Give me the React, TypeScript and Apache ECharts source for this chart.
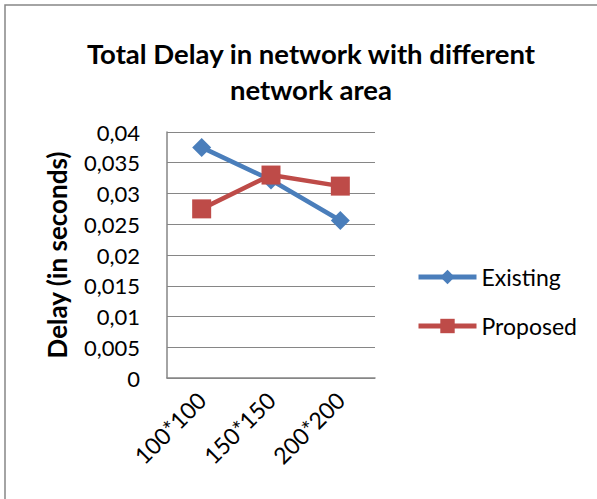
import React, { useEffect, useRef } from "react";
import * as echarts from "echarts";

const categories = ["100*100", "150*150", "200*200"];
const existing = [0.0375, 0.0322, 0.0256];
const proposed = [0.0275, 0.033, 0.0312];
const seriesNames = ["Existing", "Proposed"];
const titleText = "Total Delay in network with different\nnetwork area";
const yAxisName = "Delay (in seconds)";

const FONT = "Lato, 'Noto Sans', sans-serif";
const BLUE = "#4a7ebb";
const RED = "#be4b48";

export default function App() {
  const ref = useRef<HTMLDivElement>(null);
  useEffect(() => {
    if (!ref.current) return;
    const chart = echarts.init(ref.current, null, { renderer: "svg" });
    chart.setOption({
      animation: false,
      backgroundColor: "#ffffff",
      title: {
        text: titleText,
        left: 306,
        textAlign: "center",
        top: 30,
        textStyle: { fontFamily: FONT, fontWeight: "bold", fontSize: 27.5, lineHeight: 36, color: "#000" },
      },
      graphic: [
        {
          type: "rect",
          shape: { x: 5, y: 5, width: 620, height: 520 },
          style: { fill: "none", stroke: "#868686", lineWidth: 1.5 },
        },
      ],
      legend: {
        orient: "vertical",
        left: 411,
        top: 260,
        itemGap: 25,
        itemWidth: 58,
        itemHeight: 18,
        textStyle: { fontFamily: FONT, fontSize: 23, lineHeight: 24, color: "#000" },
        data: [
          { name: seriesNames[0], lineStyle: { width: 5, color: BLUE } },
          { name: seriesNames[1], lineStyle: { width: 5, color: RED } },
        ],
      },
      grid: { left: 167, right: 222, top: 132, bottom: 121, containLabel: false },
      xAxis: {
        type: "category",
        data: categories,
        boundaryGap: true,
        axisLine: { lineStyle: { color: "#868686", width: 1.5 } },
        axisTick: { show: false },
        axisLabel: {
          rotate: 45,
          margin: 18,
          fontFamily: FONT,
          fontSize: 23,
          color: "#000",
        },
      },
      yAxis: {
        type: "value",
        min: 0,
        max: 0.04,
        interval: 0.005,
        name: yAxisName,
        nameLocation: "middle",
        nameGap: 97,
        nameRotate: 90,
        nameTextStyle: { fontFamily: FONT, fontWeight: "bold", fontSize: 26, color: "#000" },
        axisLine: { show: true, lineStyle: { color: "#868686", width: 1.5 } },
        axisTick: { show: false },
        splitLine: { lineStyle: { color: "#868686", width: 1.2 } },
        axisLabel: {
          margin: 27,
          fontFamily: FONT,
          fontSize: 22,
          color: "#000",
          formatter: (v: number) => parseFloat(v.toFixed(3)).toString().replace(".", ","),
        },
      },
      series: [
        {
          name: seriesNames[0],
          type: "line",
          data: existing,
          symbol: "diamond",
          symbolSize: 19,
          lineStyle: { color: BLUE, width: 4.5 },
          itemStyle: { color: BLUE },
          z: 2,
        },
        {
          name: seriesNames[1],
          type: "line",
          data: proposed,
          symbol: "rect",
          symbolSize: 19,
          lineStyle: { color: RED, width: 4.5 },
          itemStyle: { color: RED },
          z: 3,
        },
      ],
    });
    return () => chart.dispose();
  }, []);
  return <div ref={ref} style={{ width: 597, height: 499, position: "absolute", left: 0, top: 0 }} />;
}
